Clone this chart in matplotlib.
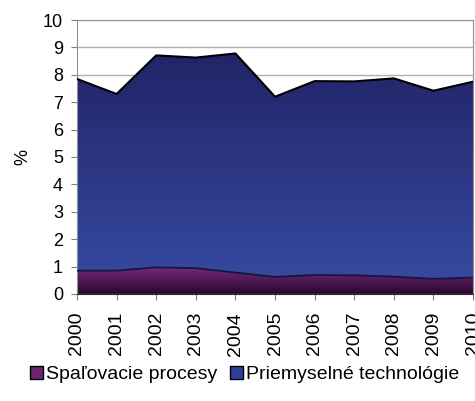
import numpy as np
import matplotlib.pyplot as plt
from matplotlib.patches import Patch
from matplotlib.colors import LinearSegmentedColormap

plt.rcParams['font.family'] = ['Liberation Sans', 'DejaVu Sans']

years = [2000, 2001, 2002, 2003, 2004, 2005, 2006, 2007, 2008, 2009, 2010]
spalovacie = [0.85, 0.85, 0.97, 0.94, 0.78, 0.62, 0.69, 0.68, 0.63, 0.55, 0.60]
total = [7.85, 7.30, 8.71, 8.63, 8.78, 7.20, 7.77, 7.76, 7.87, 7.42, 7.75]
priemyselne = [t - s for t, s in zip(total, spalovacie)]

labels = ['Spaľovacie procesy', 'Priemyselné technológie']


def gradient_fill(ax, x, y1, y2, top_color, bottom_color, ymin, ymax):
    poly = ax.fill_between(x, y1, y2, facecolor='none', edgecolor='none')
    cmap = LinearSegmentedColormap.from_list('g', [bottom_color, top_color])
    grad = np.linspace(0, 1, 256).reshape(-1, 1)
    im = ax.imshow(grad, cmap=cmap, aspect='auto', origin='lower',
                   extent=[x[0], x[-1], ymin, ymax], zorder=2)
    im.set_clip_path(poly.get_paths()[0], transform=ax.transData)


fig = plt.figure(figsize=(4.75, 4.01), dpi=100)
ax = fig.add_axes([0.162, 0.267, 0.834, 0.683])

bottom = np.zeros(len(years))
lower = np.array(spalovacie)
upper = lower + np.array(priemyselne)

gradient_fill(ax, years, bottom, lower, '#762a7c', '#2a0830', 0, 1.0)
gradient_fill(ax, years, lower, upper, '#212365', '#3649a0', 0.5, 9.0)

ax.plot(years, lower, color='#14163a', lw=1.3, zorder=3)
ax.plot(years, upper, color='black', lw=1.5, zorder=3)

ax.set_xlim(2000, 2010)
ax.set_ylim(0, 10)
ax.set_yticks(range(0, 11))
ax.set_xticks(years)
ax.set_xticklabels([str(y) for y in years], rotation=90, fontsize=14)
ax.tick_params(axis='y', labelsize=13, length=4, pad=6, color='#808080')
ax.tick_params(axis='x', length=4, pad=9, color='#808080')
ax.grid(axis='y', color='#b0b0b0', lw=1, zorder=1)
ax.set_axisbelow(True)
for s in ax.spines.values():
    s.set_color('#909090')
ax.spines['bottom'].set_color('#303030')
ax.set_ylabel('%', fontsize=13, labelpad=8)

handles = [Patch(facecolor='#6a2470', edgecolor='black', label=labels[0]),
           Patch(facecolor='#2e3f98', edgecolor='black', label=labels[1])]
fig.legend(handles=handles, loc='center', bbox_to_anchor=(0.515, 0.066),
           ncol=2, frameon=False, fontsize=14, handlelength=0.67,
           handleheight=0.67, handletextpad=0.15, columnspacing=0.65,
           borderaxespad=0)

fig.savefig('out.png', dpi=100)
